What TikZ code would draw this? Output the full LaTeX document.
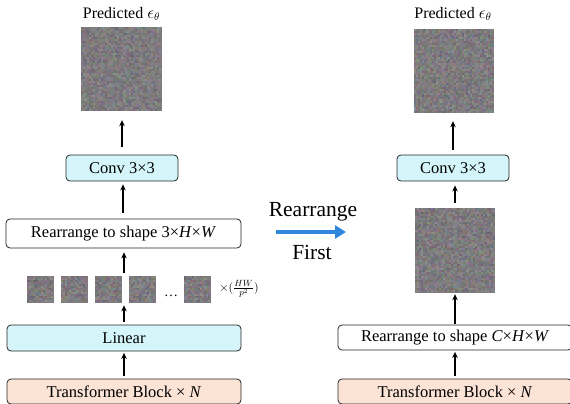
\documentclass[tikz,border=0pt]{standalone}
\usepackage{fontspec}
\setmainfont{Liberation Serif}
\usetikzlibrary{arrows.meta}
\definecolor{cyanfill}{RGB}{212,245,250}
\definecolor{peachfill}{RGB}{251,227,214}
\definecolor{noisegray}{RGB}{126,122,127}
\definecolor{arrowblue}{RGB}{48,136,222}
\newcommand{\mynoise}[4]{%
  \pgfmathtruncatemacro\nzx{#3/2-1}%
  \pgfmathtruncatemacro\nzy{#4/2-1}%
  \foreach \ix in {0,...,\nzx}{%
    \foreach \iy in {0,...,\nzy}{%
      \pgfmathsetmacro\cl{100+rnd*22}%
      \pgfmathtruncatemacro\cr{\cl+rnd*30}%
      \pgfmathtruncatemacro\cg{\cl-3+rnd*30}%
      \pgfmathtruncatemacro\cb{\cl+rnd*30}%
      \definecolor{nzc}{RGB}{\cr,\cg,\cb}%
      \fill[nzc] (#1+2*\ix,#2+2*\iy) rectangle ++(2,2);
    }%
  }%
}
\begin{document}
\begin{tikzpicture}[x=1pt,y=-1pt,
  box/.style={draw=black!85, line width=0.8pt, rounded corners=4pt, inner sep=0pt,
              font=\fontsize{16.5}{18}\selectfont},
  cyanbox/.style={box, fill=cyanfill},
  peachbox/.style={box, fill=peachfill},
  whitebox/.style={box, fill=white},
  img/.style={fill=noisegray, draw=none, inner sep=0pt},
  lbl/.style={font=\fontsize{16}{18}\selectfont, inner sep=0pt},
  up/.style={-{Stealth[length=6pt,width=5.5pt]}, line width=1.4pt, black}]
\useasboundingbox (0,0) rectangle (570,404);
\pgfmathsetseed{4242}

% ---------- left column ----------
\node[lbl] (predL) at (121.5,14) {Predicted $\epsilon_\theta$};
\node[img, minimum width=81pt, minimum height=84pt] (imgL) at (121.5,69) {};
\mynoise{81}{27}{81}{84}
\node[cyanbox, minimum width=112pt, minimum height=26pt] (convL) at (122,168) {Conv 3×3};
\node[whitebox, minimum width=235pt, minimum height=29pt] (rearL) at (123.5,233.5) {Rearrange to shape 3×\textit{H}×\textit{W}};
\foreach \n/\xx in {p1/27,p2/61,p3/95,p4/129,p5/184}{
  \node[img, minimum width=27pt, minimum height=27pt, anchor=north west] (\n) at (\xx,276) {};
  \mynoise{\xx}{276}{27}{27}
}
\node[font=\fontsize{14}{16}\selectfont, anchor=base, inner sep=0pt] (dots) at (171,296) {…};
\node[font=\fontsize{12.5}{14}\selectfont, inner sep=0pt] (ratio) at (239,289) {$\times(\frac{HW}{p^2})$};
\node[cyanbox, minimum width=234pt, minimum height=26pt] (linL) at (124,338) {Linear};
\node[peachbox, minimum width=234pt, minimum height=25pt] (tbL) at (124,391.5) {Transformer Block × \textit{N}};

\draw[up, shorten <=8pt, shorten >=9pt] (convL.north) -- (convL.north |- imgL.south);
\draw[up, shorten <=6pt, shorten >=3pt] ([xshift=-0.5pt]rearL.north) -- ([xshift=-0.5pt]rearL.north |- convL.south);
\draw[up, shorten <=3pt, shorten >=4pt] (linL.north |- p3.north) -- (linL.north |- rearL.south);
\draw[up, shorten <=3pt, shorten >=2pt] (linL.north) -- (linL.north |- p3.south);
\draw[up, shorten <=3pt, shorten >=1.5pt] (tbL.north) -- (linL.south);

% ---------- middle ----------
\node[font=\fontsize{21.5}{24}\selectfont, inner sep=0pt] (rtxt) at (313,212) {Rearrange};
\node[font=\fontsize{21.5}{24}\selectfont, inner sep=0pt] (ftxt) at (312,252) {First};
\coordinate (ba1) at (276,232);
\coordinate (ba2) at (346,232);
\draw[arrowblue, line width=4.5pt, -{Triangle[length=11pt,width=13pt]}] (ba1) -- (ba2);

% ---------- right column ----------
\node[lbl] (predR) at (453,14) {Predicted $\epsilon_\theta$};
\node[img, minimum width=80pt, minimum height=84pt] (imgR) at (454,71) {};
\mynoise{414}{29}{80}{84}
\node[cyanbox, minimum width=112pt, minimum height=26pt] (convR) at (453,168) {Conv 3×3};
\node[img, minimum width=80pt, minimum height=85pt] (imgB) at (455,250.5) {};
\mynoise{415}{208}{80}{85}
\node[whitebox, minimum width=234pt, minimum height=25pt] (rearR) at (455,337.5) {Rearrange to shape \textit{C}×\textit{H}×\textit{W}};
\node[peachbox, minimum width=234pt, minimum height=25pt] (tbR) at (455,391.5) {Transformer Block × \textit{N}};

\draw[up, shorten <=5pt, shorten >=8pt] (convR.north) -- (convR.north |- imgR.south);
\draw[up, shorten <=5pt, shorten >=4pt] (imgB.north) -- (imgB.north |- convR.south);
\draw[up, shorten <=0.5pt, shorten >=1pt] (rearR.north) -- (rearR.north |- imgB.south);
\draw[up, shorten <=3pt, shorten >=1.5pt] (tbR.north) -- (rearR.south);
\end{tikzpicture}
\end{document}
